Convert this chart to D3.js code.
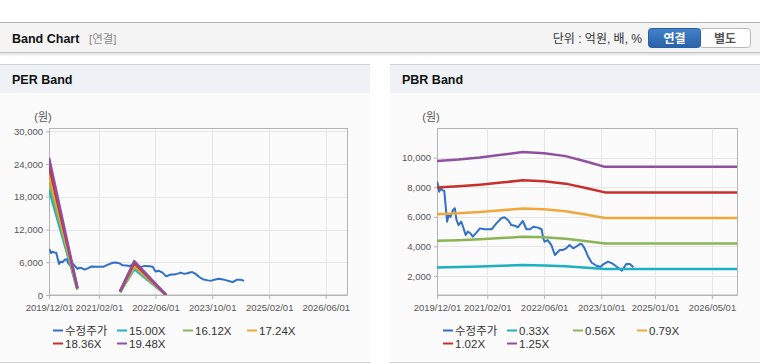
<!DOCTYPE html>
<html>
<head>
<meta charset="utf-8">
<script src="https://cdn.jsdelivr.net/npm/d3@7"></script>
<style>
  body { margin: 0; background: #fff; }
</style>
</head>
<body>
<div id="root"></div>
<script>
// 수정주가 (adjusted price), shared by both charts
const priceDates = [
  "2019-12-01", "2019-12-10", "2019-12-20", "2020-01-01", "2020-01-15", "2020-02-01",
  "2020-02-25", "2020-03-10", "2020-03-25", "2020-04-15", "2020-05-01", "2020-05-15",
  "2020-06-01", "2020-06-25", "2020-07-10", "2020-08-01", "2020-08-20", "2020-09-10",
  "2020-10-01", "2020-11-01", "2020-12-01", "2021-01-10", "2021-03-10", "2021-04-20",
  "2021-06-01", "2021-06-28", "2021-07-28", "2021-08-25", "2021-09-25", "2021-10-20",
  "2021-11-10", "2021-12-01", "2022-01-01", "2022-02-01", "2022-03-01", "2022-04-10",
  "2022-05-10", "2022-05-25", "2022-06-05", "2022-07-01", "2022-08-01", "2022-09-01",
  "2022-10-12", "2022-11-10", "2022-12-05", "2023-01-04", "2023-02-04", "2023-03-01",
  "2023-04-01", "2023-04-18", "2023-05-12", "2023-06-12", "2023-07-12", "2023-08-25",
  "2023-09-25", "2023-10-21", "2023-11-28", "2024-01-01", "2024-02-01", "2024-02-28",
  "2024-03-25", "2024-05-01", "2024-06-01", "2024-07-01"
];
const priceValues = [
  8380, 8150, 7700, 7930, 7800, 7750,
  5670, 6120, 6000, 6460, 6580, 5790,
  5450, 5670, 5330, 4770, 5000, 4890,
  4660, 4930, 5220, 5160, 5160, 5560,
  5900, 5970, 5790, 5450, 5400, 5290,
  5500, 5720, 5160, 5160, 5330, 5270,
  5160, 4550, 4320, 4430, 4100, 3420,
  3760, 3760, 3870, 4100, 3870, 3980,
  4160, 4160, 3870, 3300, 2900, 2680,
  2630, 2810, 2970, 2860, 2680, 2520,
  2360, 2810, 2810, 2590
];

// PER band (null = no value, line breaks)
const perDates = ["2019-12-01", "2020-08-01", "2021-03-01", "2021-08-01", "2021-12-01", "2022-09-01"];
const perLabels = ["15.00X", "16.12X", "17.24X", "18.36X", "19.48X"];
const per1500 = [19350, 990, null, 510, 4770, 0];
const per1612 = [20795, 1064, null, 548, 5126, 0];
const per1724 = [22240, 1138, null, 586, 5482, 0];
const per1836 = [23684, 1212, null, 624, 5838, 0];
const per1948 = [25129, 1286, null, 662, 6195, 0];

// PBR band
const pbrDates = [
  "2019-12-01", "2020-06-01", "2020-12-01", "2021-06-01", "2021-12-01",
  "2022-06-01", "2022-12-01", "2023-06-01", "2023-11-01", "2026-12-01"
];
const pbrLabels = ["0.33X", "0.56X", "0.79X", "1.02X", "1.25X"];
const pbr033 = [2581, 2607, 2643, 2690, 2739, 2719, 2666, 2567, 2475, 2475];
const pbr056 = [4379, 4424, 4486, 4564, 4648, 4614, 4525, 4357, 4200, 4200];
const pbr079 = [6178, 6241, 6328, 6439, 6557, 6510, 6383, 6146, 5925, 5925];
const pbr102 = [7976, 8058, 8170, 8313, 8466, 8405, 8242, 7936, 7650, 7650];
const pbr125 = [9775, 9875, 10013, 10188, 10375, 10300, 10100, 9725, 9375, 9375];

const perXTicks = ["2019-12-01", "2021-02-01", "2022-06-01", "2023-10-01", "2025-02-01", "2026-06-01"];
const pbrXTicks = ["2019-12-01", "2021-02-01", "2022-06-01", "2023-10-01", "2025-01-01", "2026-05-01"];
const perYTicks = [0, 6000, 12000, 18000, 24000, 30000];
const pbrYTicks = [2000, 4000, 6000, 8000, 10000];

const colors = ["#2f70c8", "#1cb0c2", "#8bb455", "#f0a83c", "#c8302c", "#91509f"];
const parse = d3.timeParse("%Y-%m-%d");
const fmtDate = d3.timeFormat("%Y/%m/%d");
const fmtNum = d3.format(",");
const font = "'Liberation Sans', Arial, 'Noto Sans CJK KR', sans-serif";

const svg = d3.select("#root")
  .append("svg")
  .attr("width", 760)
  .attr("height", 364)
  .style("font-family", font);

// top header bar
const defs = svg.append("defs");
const shade = defs.append("linearGradient").attr("id", "shade").attr("x1", 0).attr("x2", 0).attr("y1", 0).attr("y2", 1);
shade.append("stop").attr("offset", 0).attr("stop-color", "#000").attr("stop-opacity", 0.12);
shade.append("stop").attr("offset", 1).attr("stop-color", "#000").attr("stop-opacity", 0);
const btn = defs.append("linearGradient").attr("id", "btn").attr("x1", 0).attr("x2", 0).attr("y1", 0).attr("y2", 1);
btn.append("stop").attr("offset", 0).attr("stop-color", "#4383c9");
btn.append("stop").attr("offset", 1).attr("stop-color", "#2862a9");

svg.append("rect").attr("x", 0).attr("y", 22).attr("width", 760).attr("height", 31).attr("fill", "#f4f4f4");
svg.append("line").attr("x1", 0).attr("x2", 760).attr("y1", 22.5).attr("y2", 22.5).attr("stroke", "#b4b4b4");
svg.append("line").attr("x1", 0).attr("x2", 760).attr("y1", 52.5).attr("y2", 52.5).attr("stroke", "#c4c4c4");
svg.append("rect").attr("x", 0).attr("y", 53).attr("width", 760).attr("height", 4).attr("fill", "url(#shade)");

svg.append("text").attr("x", 12).attr("y", 43).attr("font-size", 12.5).attr("font-weight", "bold")
  .attr("fill", "#111").text("Band Chart");
svg.append("text").attr("x", 89).attr("y", 43).attr("font-size", 11.5).attr("fill", "#8a8a8a").text("[연결]");
svg.append("text").attr("x", 642).attr("y", 43).attr("font-size", 12).attr("fill", "#333")
  .attr("text-anchor", "end").text("단위 : 억원, 배, %");

svg.append("rect").attr("x", 699.5).attr("y", 28.5).attr("width", 51).attr("height", 19).attr("rx", 3)
  .attr("fill", "#fff").attr("stroke", "#b8b8b8");
svg.append("rect").attr("x", 648.5).attr("y", 28.5).attr("width", 52).attr("height", 19).attr("rx", 3)
  .attr("fill", "url(#btn)").attr("stroke", "#2a5f9f");
svg.append("text").attr("x", 674.5).attr("y", 42.5).attr("font-size", 12).attr("font-weight", "bold")
  .attr("fill", "#fff").attr("text-anchor", "middle").text("연결");
svg.append("text").attr("x", 725).attr("y", 42.5).attr("font-size", 12).attr("font-weight", "bold")
  .attr("fill", "#555").attr("text-anchor", "middle").text("별도");

function drawPanel(px, title) {
  const g = svg.append("g");
  g.append("rect").attr("x", px).attr("y", 64).attr("width", 370).attr("height", 29).attr("fill", "#eef2f7");
  g.append("line").attr("x1", px).attr("x2", px + 370).attr("y1", 64.5).attr("y2", 64.5).attr("stroke", "#d2d2d2");
  g.append("rect").attr("x", px).attr("y", 93).attr("width", 370).attr("height", 269).attr("fill", "#fbfbfb");
  g.append("line").attr("x1", px).attr("x2", px + 370).attr("y1", 362.5).attr("y2", 362.5).attr("stroke", "#d2d2d2");
  g.append("text").attr("x", px + 12).attr("y", 84).attr("font-size", 12.5).attr("font-weight", "bold")
    .attr("fill", "#111").text(title);
}

function drawChart(opt) {
  const x = d3.scaleTime().domain([parse("2019-12-01"), parse("2026-12-01")]).range([opt.left, opt.right]);
  const y = d3.scaleLinear().domain(opt.yDomain).range([295, 128]);
  const g = svg.append("g");

  // grid
  g.selectAll(".gx").data(opt.xTicks.map(parse)).join("line")
    .attr("x1", d => Math.round(x(d)) + 0.5).attr("x2", d => Math.round(x(d)) + 0.5)
    .attr("y1", 128).attr("y2", 295).attr("stroke", "#e6e6e6");
  g.selectAll(".gy").data(opt.yTicks).join("line")
    .attr("x1", opt.left).attr("x2", opt.right)
    .attr("y1", d => Math.round(y(d)) + 0.5).attr("y2", d => Math.round(y(d)) + 0.5).attr("stroke", "#e6e6e6");
  g.append("rect").attr("x", opt.left + 0.5).attr("y", 128.5)
    .attr("width", opt.right - opt.left).attr("height", 166.5)
    .attr("fill", "none").attr("stroke", "#b4b4b4");

  // axes
  const xAxis = g.append("g").attr("transform", "translate(0,295)")
    .call(d3.axisBottom(x).tickValues(opt.xTicks.map(parse)).tickFormat(fmtDate).tickSize(4).tickSizeOuter(0));
  const yAxis = g.append("g").attr("transform", `translate(${opt.left},0)`)
    .call(d3.axisLeft(y).tickValues(opt.yTicks).tickFormat(fmtNum).tickSize(3).tickSizeOuter(0));
  [xAxis, yAxis].forEach(a => {
    a.select(".domain").attr("stroke", "#b4b4b4");
    a.selectAll(".tick line").attr("stroke", "#b4b4b4");
    a.selectAll("text").attr("fill", "#555").attr("font-size", 9.5).attr("font-family", font);
  });
  xAxis.selectAll("text").attr("dy", "0.9em");
  g.append("text").attr("x", opt.left - 6).attr("y", 121).attr("font-size", 11)
    .attr("fill", "#555").attr("text-anchor", "middle").text("(원)");

  const clip = "clip" + opt.left;
  defs.append("clipPath").attr("id", clip).append("rect")
    .attr("x", opt.left).attr("y", 128).attr("width", opt.right - opt.left).attr("height", 167);
  const plot = g.append("g").attr("clip-path", `url(#${clip})`);

  const line = d3.line().defined(d => d[1] != null).x(d => x(d[0])).y(d => y(d[1]));

  const price = priceDates.map((d, i) => [parse(d), priceValues[i]]);
  plot.append("path").datum(price).attr("d", line)
    .attr("fill", "none").attr("stroke", colors[0]).attr("stroke-width", 2).attr("stroke-linejoin", "round");

  const dates = opt.bandDates.map(parse);
  opt.bands.forEach((vals, k) => {
    plot.append("path").datum(dates.map((d, i) => [d, vals[i]])).attr("d", line)
      .attr("fill", "none").attr("stroke", colors[k + 1]).attr("stroke-width", opt.bandWidth)
      .attr("stroke-linejoin", "round");
  });

  // legend
  const names = ["수정주가"].concat(opt.labels);
  const cols = [53, 117, 183, 247];
  const lg = g.append("g").selectAll("g").data(names).join("g")
    .attr("transform", (d, i) => `translate(${opt.px + cols[i % 4]},${i < 4 ? 330 : 343})`);
  lg.append("line").attr("x1", 0).attr("x2", 10).attr("y1", 0.5).attr("y2", 0.5)
    .attr("stroke", (d, i) => colors[i]).attr("stroke-width", 2);
  lg.append("text").attr("x", 12).attr("y", 4.5).attr("font-size", 11.5).attr("fill", "#333").text(d => d);
}

drawPanel(0, "PER Band");
drawPanel(390, "PBR Band");

drawChart({
  px: 0, left: 49, right: 347, yDomain: [0, 30600],
  xTicks: perXTicks, yTicks: perYTicks,
  bandDates: perDates, bands: [per1500, per1612, per1724, per1836, per1948],
  labels: perLabels, bandWidth: 2.6
});
drawChart({
  px: 390, left: 437, right: 737, yDomain: [720, 12000],
  xTicks: pbrXTicks, yTicks: pbrYTicks,
  bandDates: pbrDates, bands: [pbr033, pbr056, pbr079, pbr102, pbr125],
  labels: pbrLabels, bandWidth: 2.5
});
</script>
</body>
</html>
